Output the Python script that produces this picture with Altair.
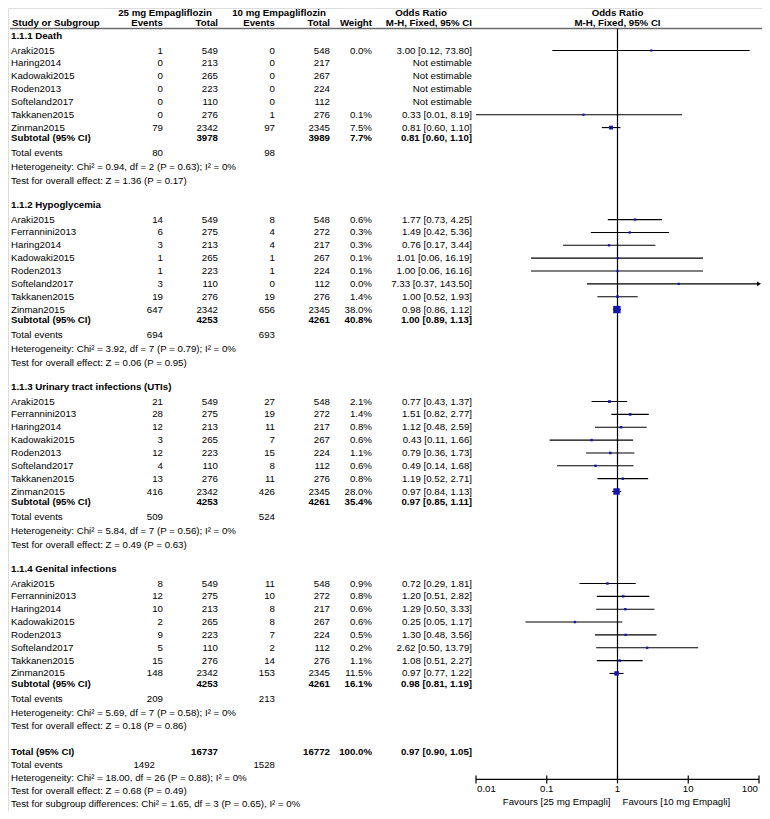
import altair as alt
import pandas as pd

FONT = "Liberation Sans"
FS = 9.7

# ---------------- data ----------------
section_titles = ["1.1.1 Death", "1.1.2 Hypoglycemia",
                  "1.1.3 Urinary tract infections (UTIs)", "1.1.4 Genital infections"]
names7 = ["Araki2015", "Haring2014", "Kadowaki2015", "Roden2013", "Softeland2017", "Takkanen2015", "Zinman2015"]
names8 = ["Araki2015", "Ferrannini2013", "Haring2014", "Kadowaki2015", "Roden2013", "Softeland2017",
          "Takkanen2015", "Zinman2015"]
study_names = [names7, names8, names8, names8]

ev25 = [[1, 0, 0, 0, 0, 0, 79],
        [14, 6, 3, 1, 1, 3, 19, 647],
        [21, 28, 12, 3, 12, 4, 13, 416],
        [8, 12, 10, 2, 9, 5, 15, 148]]
tot25 = [[549, 213, 265, 223, 110, 276, 2342],
         [549, 275, 213, 265, 223, 110, 276, 2342],
         [549, 275, 213, 265, 223, 110, 276, 2342],
         [549, 275, 213, 265, 223, 110, 276, 2342]]
ev10 = [[0, 0, 0, 0, 0, 1, 97],
        [8, 4, 4, 1, 1, 0, 19, 656],
        [27, 19, 11, 7, 15, 8, 11, 426],
        [11, 10, 8, 8, 7, 2, 14, 153]]
tot10 = [[548, 217, 267, 224, 112, 276, 2345],
         [548, 272, 217, 267, 224, 112, 276, 2345],
         [548, 272, 217, 267, 224, 112, 276, 2345],
         [548, 272, 217, 267, 224, 112, 276, 2345]]
weight = [[0.0, None, None, None, None, 0.1, 7.5],
          [0.6, 0.3, 0.3, 0.1, 0.1, 0.0, 1.4, 38.0],
          [2.1, 1.4, 0.8, 0.6, 1.1, 0.6, 0.8, 28.0],
          [0.9, 0.8, 0.6, 0.6, 0.5, 0.2, 1.1, 11.5]]
odds = [[3.00, None, None, None, None, 0.33, 0.81],
        [1.77, 1.49, 0.76, 1.01, 1.00, 7.33, 1.00, 0.98],
        [0.77, 1.51, 1.12, 0.43, 0.79, 0.49, 1.19, 0.97],
        [0.72, 1.20, 1.29, 0.25, 1.30, 2.62, 1.08, 0.97]]
ci_lo = [[0.12, None, None, None, None, 0.01, 0.60],
         [0.73, 0.42, 0.17, 0.06, 0.06, 0.37, 0.52, 0.86],
         [0.43, 0.82, 0.48, 0.11, 0.36, 0.14, 0.52, 0.84],
         [0.29, 0.51, 0.50, 0.05, 0.48, 0.50, 0.51, 0.77]]
ci_hi = [[73.80, None, None, None, None, 8.19, 1.10],
         [4.25, 5.36, 3.44, 16.19, 16.16, 143.50, 1.93, 1.12],
         [1.37, 2.77, 2.59, 1.66, 1.73, 1.68, 2.71, 1.13],
         [1.81, 2.82, 3.33, 1.17, 3.56, 13.79, 2.27, 1.22]]

sub_tot25 = [3978, 4253, 4253, 4253]
sub_tot10 = [3989, 4261, 4261, 4261]
sub_weight = [7.7, 40.8, 35.4, 16.1]
sub_or = [0.81, 1.00, 0.97, 0.98]
sub_lo = [0.60, 0.89, 0.85, 0.81]
sub_hi = [1.10, 1.13, 1.11, 1.19]
te25 = [80, 694, 509, 209]
te10 = [98, 693, 524, 213]
het_chi = [0.94, 3.92, 5.84, 5.69]
het_df = [2, 7, 7, 7]
het_p = [0.63, 0.79, 0.56, 0.58]
het_i2 = [0, 0, 0, 0]
z_val = [1.36, 0.06, 0.49, 0.18]
z_p = [0.17, 0.95, 0.63, 0.86]

total_tot25, total_tot10, total_weight = 16737, 16772, 100.0
total_or, total_lo, total_hi = 0.97, 0.90, 1.05
total_te25, total_te10 = 1492, 1528
total_het = (18.00, 26, 0.88, 0)
total_z = (0.68, 0.49)
subgroup_diff = (1.65, 3, 0.65, 0)

axis_ticks = [0.01, 0.1, 1, 10, 100]
axis_labels = ["0.01", "0.1", "1", "10", "100"]

# ---------------- layout (row spacing, page pixels) ----------------
Y_HEAD1, Y_HEAD2, Y_LINE = 12.5, 23.0, 28.5
Y_START = 35.5
S_TITLE, S_STUDY, S_SUB, S_TE, S_HET, S_TEST, S_NEXT, S_TOTAL, S_FOOT = 15, 12.85, 10.5, 15, 14, 13.5, 24, 26, 13.0
Y_AXIS_GAP = 27
DIAMOND_H = 5.5


def fmt_ci(o, lo, hi):
    return f"{o:.2f} [{lo:.2f}, {hi:.2f}]"


rows, forest, diamonds = [], [], []
y = Y_START
for s in range(4):
    rows.append(dict(y=y, name=section_titles[s], bold=True))
    y += S_TITLE
    for i, nm in enumerate(study_names[s]):
        if i:
            y += S_STUDY
        o, lo, hi, w = odds[s][i], ci_lo[s][i], ci_hi[s][i], weight[s][i]
        rows.append(dict(y=y, name=nm, ev25=str(ev25[s][i]), tot25=str(tot25[s][i]),
                         ev10=str(ev10[s][i]), tot10=str(tot10[s][i]),
                         weight=(f"{w:.1f}%" if w is not None else ""),
                         ortxt=(fmt_ci(o, lo, hi) if o is not None else "Not estimable"), bold=False))
        if o is not None:
            forest.append(dict(y=y, odds=o, lo=lo, hi=min(hi, 100), arrow=hi > 100, sz=5 + 1.3 * w))
    y += S_SUB
    rows.append(dict(y=y, name="Subtotal (95% CI)", tot25=str(sub_tot25[s]), tot10=str(sub_tot10[s]),
                     weight=f"{sub_weight[s]:.1f}%", ortxt=fmt_ci(sub_or[s], sub_lo[s], sub_hi[s]), bold=True))
    for k, (xv, a, b) in enumerate([(sub_lo[s], y, y), (sub_or[s], y - DIAMOND_H, y + DIAMOND_H), (sub_hi[s], y, y)]):
        diamonds.append(dict(g=s, k=k, x=xv, ya=a, yb=b))
    y += S_TE
    rows.append(dict(y=y, name="Total events", ev25=str(te25[s]), ev10=str(te10[s]), bold=False))
    y += S_HET
    rows.append(dict(y=y, name=f"Heterogeneity: Chi² = {het_chi[s]:.2f}, df = {het_df[s]} (P = {het_p[s]:.2f}); I² = {het_i2[s]}%", bold=False))
    y += S_TEST
    rows.append(dict(y=y, name=f"Test for overall effect: Z = {z_val[s]:.2f} (P = {z_p[s]:.2f})", bold=False))
    y_last_test = y
    y += S_NEXT

y = y_last_test + S_TOTAL
rows.append(dict(y=y, name="Total (95% CI)", tot25=str(total_tot25), tot10=str(total_tot10),
                 weight=f"{total_weight:.1f}%", ortxt=fmt_ci(total_or, total_lo, total_hi), bold=True))
for k, (xv, a, b) in enumerate([(total_lo, y, y), (total_or, y - 5, y + 5), (total_hi, y, y)]):
    diamonds.append(dict(g=9, k=k, x=xv, ya=a, yb=b))
y_total = y
y += S_FOOT
rows.append(dict(y=y, name="Total events", ev25b=str(total_te25), ev10=str(total_te10), bold=False))
y += S_FOOT
rows.append(dict(y=y, name=f"Heterogeneity: Chi² = {total_het[0]:.2f}, df = {total_het[1]} (P = {total_het[2]:.2f}); I² = {total_het[3]}%", bold=False))
y += S_FOOT
rows.append(dict(y=y, name=f"Test for overall effect: Z = {total_z[0]:.2f} (P = {total_z[1]:.2f})", bold=False))
y += S_FOOT
rows.append(dict(y=y, name=f"Test for subgroup differences: Chi² = {subgroup_diff[0]:.2f}, df = {subgroup_diff[1]} (P = {subgroup_diff[2]:.2f}), I² = {subgroup_diff[3]}%", bold=False))

y_axis = y_total + Y_AXIS_GAP
y_ticklab = y_axis + 10
y_fav = y_axis + 23

cols = ["name", "ev25", "ev25b", "tot25", "ev10", "tot10", "weight", "ortxt"]
rows_df = pd.DataFrame(rows)
for c in cols:
    if c not in rows_df:
        rows_df[c] = ""
    rows_df[c] = rows_df[c].fillna("")
forest_df = pd.DataFrame(forest)
diam_df = pd.DataFrame(diamonds)

# ---------------- scales ----------------
W, H = 754, 803
YS = alt.Scale(domain=[8, 8 + H], range=[0, H], nice=False, zero=False)
XS = alt.Scale(type="log", domain=[0.01, 100], range=[468, 751], nice=False)


def Y(field="y"):
    return alt.Y(f"{field}:Q", scale=YS, axis=None)


def X(field):
    return alt.X(f"{field}:Q", scale=XS, axis=None)


def text_layer(df, field, x, align, bold):
    cond = "datum.bold" if bold else "!datum.bold"
    return alt.Chart(df).transform_filter(cond).mark_text(
        align=align, baseline="middle", font=FONT, fontSize=FS,
        fontWeight="bold" if bold else "normal", color="black"
    ).encode(x=alt.value(x), y=Y(), text=f"{field}:N")


layers = []

# header
hdr1 = pd.DataFrame({"y": [Y_HEAD1], "a": ["25 mg Empagliflozin"], "b": ["10 mg Empagliflozin"], "c": ["Odds Ratio"]})
hdr2 = pd.DataFrame({"y": [Y_HEAD2], "name": ["Study or Subgroup"], "ev": ["Events"], "tot": ["Total"],
                     "w": ["Weight"], "mh": ["M-H, Fixed, 95% CI"]})


def hdr_text(df, field, x, align):
    return alt.Chart(df).mark_text(align=align, baseline="middle", font=FONT, fontSize=FS,
                                   fontWeight="bold", color="black").encode(x=x, y=Y(), text=f"{field}:N")


layers += [
    hdr_text(hdr1, "a", alt.value(157), "center"),
    hdr_text(hdr1, "b", alt.value(271), "center"),
    hdr_text(hdr1, "c", alt.value(413), "center"),
    hdr_text(hdr2, "name", alt.value(4), "left"),
    hdr_text(hdr2, "ev", alt.value(155), "right"),
    hdr_text(hdr2, "tot", alt.value(210), "right"),
    hdr_text(hdr2, "ev", alt.value(267), "right"),
    hdr_text(hdr2, "tot", alt.value(322), "right"),
    hdr_text(hdr2, "w", alt.value(364), "right"),
    hdr_text(hdr2, "mh", alt.value(464), "right"),
]
fhdr = pd.DataFrame({"x": [1, 1], "y": [Y_HEAD1, Y_HEAD2], "t": ["Odds Ratio", "M-H, Fixed, 95% CI"]})
layers.append(alt.Chart(fhdr).mark_text(align="center", baseline="middle", font=FONT, fontSize=FS,
                                        fontWeight="bold", color="black").encode(x=X("x"), y=Y(), text="t:N"))

# header rule
layers.append(alt.Chart(pd.DataFrame({"y": [Y_LINE]})).mark_rule(color="#6b6b6b", strokeWidth=1.6).encode(
    y=Y(), x=alt.value(2), x2=alt.value(W)))

# text columns
for bold in (False, True):
    layers += [
        text_layer(rows_df, "name", 3, "left", bold),
        text_layer(rows_df, "ev25", 155, "right", bold),
        text_layer(rows_df, "ev25b", 147, "right", bold),
        text_layer(rows_df, "tot25", 210, "right", bold),
        text_layer(rows_df, "ev10", 267, "right", bold),
        text_layer(rows_df, "tot10", 322, "right", bold),
        text_layer(rows_df, "weight", 364, "right", bold),
        text_layer(rows_df, "ortxt", 464, "right", bold),
    ]

# reference line at OR = 1
vline = pd.DataFrame({"x": [1], "y": [Y_LINE], "y2": [y_axis]})
layers.append(alt.Chart(vline).mark_rule(color="black", strokeWidth=1.2).encode(x=X("x"), y=Y(), y2="y2:Q"))

# CI lines
layers.append(alt.Chart(forest_df).mark_rule(color="black", strokeWidth=1.1).encode(x=X("lo"), x2="hi:Q", y=Y()))
# arrow
layers.append(alt.Chart(forest_df).transform_filter("datum.arrow").mark_point(
    shape="triangle-right", filled=True, color="black", size=22, opacity=1).encode(x=X("hi"), y=Y()))
# squares
layers.append(alt.Chart(forest_df).mark_square(filled=True, color="#1515b0", opacity=1).encode(
    x=X("odds"), y=Y(), size=alt.Size("sz:Q", scale=None, legend=None)))
# diamonds
layers.append(alt.Chart(diam_df).mark_area(color="black", opacity=1, orient="vertical").encode(
    x=X("x"), y=Y("ya"), y2="yb:Q", detail="g:N", order="k:Q"))

# axis
axis_df = pd.DataFrame({"lo": [0.01], "hi": [100], "y": [y_axis]})
layers.append(alt.Chart(axis_df).mark_rule(color="black", strokeWidth=1.2).encode(x=X("lo"), x2="hi:Q", y=Y()))
tick_df = pd.DataFrame({"v": axis_ticks, "lab": axis_labels, "y": [y_axis - 4] * 5, "y2": [y_axis + 4] * 5,
                        "yl": [y_ticklab] * 5, "pos": ["first", "mid", "mid", "mid", "last"]})
layers.append(alt.Chart(tick_df).mark_rule(color="black", strokeWidth=1.2).encode(x=X("v"), y=Y(), y2="y2:Q"))
for pos, align, dx in (("first", "left", 1), ("mid", "center", 0), ("last", "right", -1)):
    layers.append(alt.Chart(tick_df).transform_filter(f"datum.pos == '{pos}'").mark_text(
        align=align, dx=dx, baseline="middle", font=FONT, fontSize=FS, color="black").encode(
        x=X("v"), y=Y("yl"), text="lab:N"))

fav = pd.DataFrame({"x": [1], "y": [y_fav], "l": ["Favours [25 mg Empagli]"], "r": ["Favours [10 mg Empagli]"]})
layers.append(alt.Chart(fav).mark_text(align="right", dx=-7, baseline="middle", font=FONT, fontSize=FS,
                                       color="black").encode(x=X("x"), y=Y(), text="l:N"))
layers.append(alt.Chart(fav).mark_text(align="left", dx=5, baseline="middle", font=FONT, fontSize=FS,
                                       color="black").encode(x=X("x"), y=Y(), text="r:N"))

chart = alt.layer(*layers).properties(
    width=W, height=H, padding=0, autosize=alt.AutoSizeParams(type="none")
).configure_view(stroke=None).configure(background="white")

chart.save("out.html", embed_options={"renderer": "svg", "actions": False})
